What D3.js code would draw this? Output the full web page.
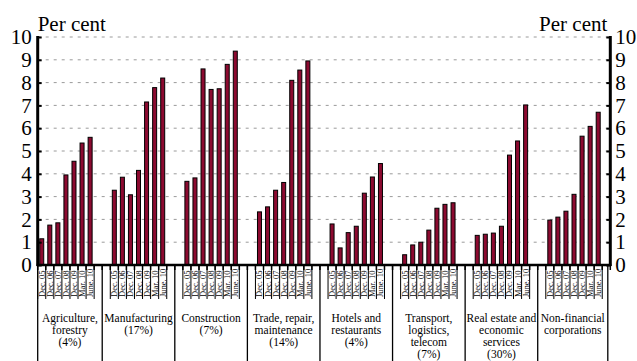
<!DOCTYPE html>
<html>
<head>
<meta charset="utf-8">
<script src="https://cdn.jsdelivr.net/npm/d3@7"></script>
<style>
  html, body { margin: 0; padding: 0; background: #fff; }
  svg { display: block; }
</style>
</head>
<body>
<svg id="chart" width="637" height="361"></svg>
<script>
// Sectors and their share (shown in the labels)
const sectors = [
  ["Agriculture,", "forestry", "(4%)"],
  ["Manufacturing", "(17%)"],
  ["Construction", "(7%)"],
  ["Trade, repair,", "maintenance", "(14%)"],
  ["Hotels and", "restaurants", "(4%)"],
  ["Transport,", "logistics,", "telecom", "(7%)"],
  ["Real estate and", "economic", "services", "(30%)"],
  ["Non-financial", "corporations"]
];

// Observation dates within each sector
const periods = ["Dec. 05", "Dec. 06", "Dec. 07", "Dec. 08", "Dec. 09", "Mar. 10", "June. 10"];

// Per cent, one row per sector, one value per period
const agriculture   = [1.15, 1.75, 1.85, 3.95, 4.55, 5.35, 5.6];
const manufacturing = [3.28, 3.85, 3.08, 4.15, 7.15, 7.78, 8.2];
const construction  = [3.67, 3.82, 8.6, 7.7, 7.73, 8.8, 9.38];
const trade         = [2.33, 2.55, 3.28, 3.62, 8.1, 8.55, 8.95];
const hotels        = [1.8, 0.75, 1.42, 1.7, 3.15, 3.86, 4.45];
const transport     = [0.45, 0.88, 1.0, 1.53, 2.49, 2.66, 2.73];
const realEstate    = [1.3, 1.35, 1.4, 1.7, 4.82, 5.44, 7.02];
const nonFinancial  = [1.97, 2.1, 2.36, 3.1, 5.65, 6.08, 6.7];

const series = [agriculture, manufacturing, construction, trade, hotels, transport, realEstate, nonFinancial];

const yTicks = [0, 1, 2, 3, 4, 5, 6, 7, 8, 9, 10];

const FONT = '"Liberation Serif", Tinos, "Times New Roman", Times, "Nimbus Roman", FreeSerif, Georgia, serif';

// Layout
const plotLeft = 37.7, plotRight = 610.3, plotTop = 37, plotBottom = 265;
const slotsPerGroup = 9;       // 7 periods + 2 spacer slots
const nSlots = 71;

const svg = d3.select("#chart");

const x = d3.scaleBand().domain(d3.range(nSlots)).range([plotLeft, plotRight]).paddingInner(0).paddingOuter(0);
const y = d3.scaleLinear().domain([0, 10]).range([plotBottom, plotTop]);
const slotW = x.bandwidth();
const slotOf = (g, k) => g * slotsPerGroup + k;
const slotX = i => plotLeft + i * slotW;

// Dotted grid
svg.append("g")
  .selectAll("line")
  .data(yTicks.filter(d => d > 0))
  .join("line")
  .attr("x1", plotLeft).attr("x2", plotRight)
  .attr("y1", d => y(d)).attr("y2", d => y(d))
  .attr("stroke", "#9a9a9a")
  .attr("stroke-width", 1)
  .attr("stroke-dasharray", "3,5");

// Bars
const barData = series.flatMap((vals, g) => vals.map((v, k) => ({ g, k, v })));
svg.append("g")
  .selectAll("rect")
  .data(barData)
  .join("rect")
  .attr("x", d => x(slotOf(d.g, d.k)) + slotW / 2 - 2)
  .attr("width", 4)
  .attr("y", d => y(d.v))
  .attr("height", d => y(0) - y(d.v))
  .attr("fill", "#8c0a30")
  .attr("stroke", "#000")
  .attr("stroke-width", 1);

// Left and right value axes
const yLeft = d3.axisLeft(y).tickValues(yTicks).tickSize(-4).tickPadding(6).tickFormat(d3.format("d"));
const yRight = d3.axisRight(y).tickValues(yTicks).tickSize(-4).tickPadding(5).tickFormat(d3.format("d"));

function styleAxis(g) {
  g.attr("font-family", null);
  g.select(".domain").remove();
  g.selectAll(".tick line").attr("stroke", "#000").attr("stroke-width", 2);
  g.selectAll(".tick text").style("font-size", "21px").attr("fill", "#000");
}

svg.append("g").attr("transform", `translate(${plotLeft},0)`).call(yLeft).call(styleAxis);
svg.append("g").attr("transform", `translate(${plotRight},0)`).call(yRight).call(styleAxis);

svg.append("line").attr("x1", plotLeft).attr("x2", plotLeft).attr("y1", plotTop - 1).attr("y2", plotBottom + 1)
  .attr("stroke", "#000").attr("stroke-width", 3);
svg.append("line").attr("x1", plotRight).attr("x2", plotRight).attr("y1", plotTop - 1).attr("y2", plotBottom + 1)
  .attr("stroke", "#000").attr("stroke-width", 3);

// Unit captions
svg.append("text").attr("x", plotLeft).attr("y", 31).style("font-size", "21px").text("Per cent");
svg.append("text").attr("x", plotRight - 3).attr("y", 31).style("font-size", "21px")
  .attr("text-anchor", "end").text("Per cent");

// Category axis: short ticks at every slot boundary
const boundaries = d3.range(nSlots + 1).map(slotX);
svg.append("g")
  .selectAll("line")
  .data(boundaries)
  .join("line")
  .attr("x1", d => d).attr("x2", d => d)
  .attr("y1", plotBottom).attr("y2", plotBottom + 5)
  .attr("stroke", "#000").attr("stroke-width", 1.5);

// Dividers around each period label
const labelBoxLines = sectors.flatMap((s, g) => d3.range(periods.length + 1).map(k => slotX(slotOf(g, k))));
svg.append("g")
  .selectAll("line")
  .data(labelBoxLines)
  .join("line")
  .attr("x1", d => d).attr("x2", d => d)
  .attr("y1", plotBottom).attr("y2", 299)
  .attr("stroke", "#000").attr("stroke-width", 1);

// Period labels, rotated
svg.append("g")
  .selectAll("text")
  .data(barData)
  .join("text")
  .attr("transform", d => `translate(${x(slotOf(d.g, d.k)) + slotW / 2 + 3},297) rotate(-90)`)
  .style("font-size", "8.5px")
  .text(d => periods[d.k]);

// Sector dividers, running to the bottom edge
const dividers = [plotLeft]
  .concat(d3.range(1, sectors.length).map(g => slotX(slotOf(g, -1))))
  .concat([plotRight - 2.5]);
svg.append("g")
  .selectAll("line")
  .data(dividers)
  .join("line")
  .attr("x1", d => d).attr("x2", d => d)
  .attr("y1", plotBottom).attr("y2", 361)
  .attr("stroke", "#000").attr("stroke-width", 1.3);

// Sector labels
svg.append("g")
  .selectAll("text")
  .data(sectors)
  .join("text")
  .attr("text-anchor", "middle")
  .style("font-size", "11.5px")
  .each(function (lines, g) {
    const cx = (dividers[g] + dividers[g + 1]) / 2;
    d3.select(this).selectAll("tspan")
      .data(lines)
      .join("tspan")
      .attr("x", cx)
      .attr("y", (d, i) => 322 + i * 12)
      .text(d => d);
  });

// Baseline
svg.append("line").attr("x1", plotLeft - 1).attr("x2", plotRight + 1).attr("y1", plotBottom).attr("y2", plotBottom)
  .attr("stroke", "#000").attr("stroke-width", 2.5);

// Serif face for every label; applied again once the face is ready
function applyFont() {
  svg.selectAll("text").style("font-family", FONT).attr("fill", "#000");
}
applyFont();
if (document.fonts && document.fonts.load) {
  document.fonts.load('21px "Liberation Serif"').then(applyFont).catch(() => {});
}
</script>
</body>
</html>
